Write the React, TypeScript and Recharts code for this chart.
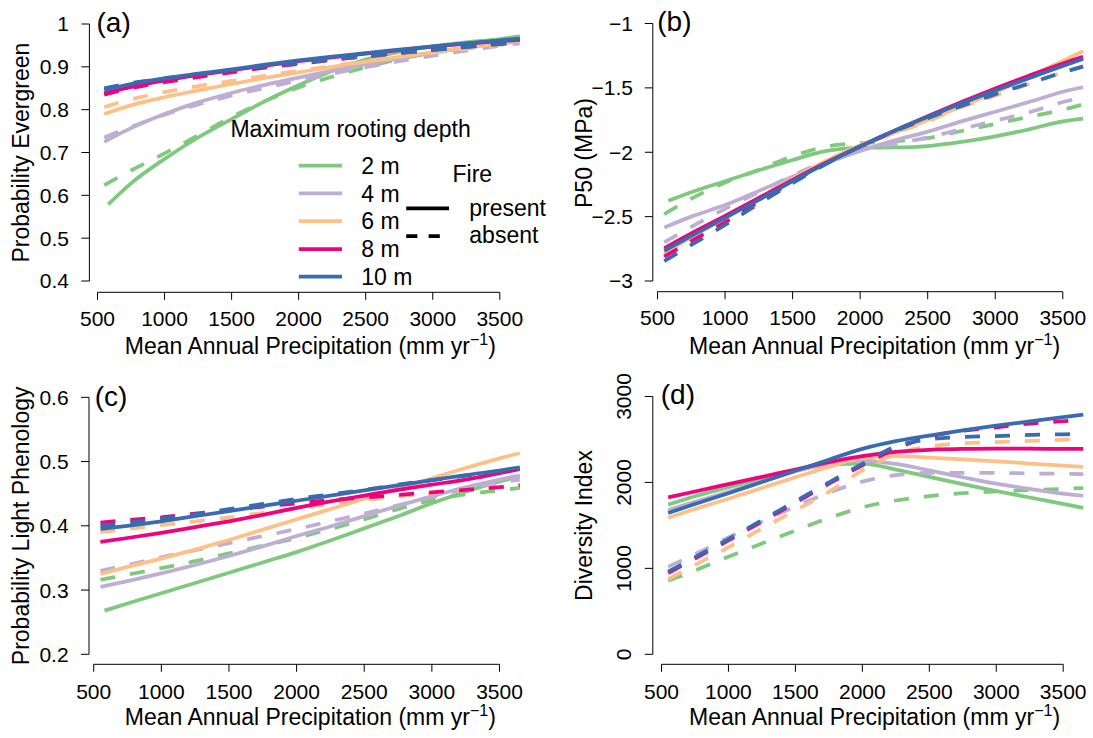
import React from 'react';
import { LineChart, Line, XAxis, YAxis, ReferenceLine } from 'recharts';

const FONT = '"Liberation Sans", Arial, Helvetica, sans-serif';
const TICK_FS = 21;
const TITLE_FS = 23;
const LETTER_FS = 28;
const LW = 3.75;
const DASH = '15 15';

const DEPTH_LABELS = ['2 m', '4 m', '6 m', '8 m', '10 m'];
const DEPTH_COLORS = ['#7FC97F', '#BEAED4', '#FDC086', '#F0027F', '#386CB0'];
const FIRE_LABELS = ['present', 'absent'];
const LEGEND_TITLE = 'Maximum rooting depth';
const FIRE_TITLE = 'Fire';

const PRECIP = [550, 750, 1000, 1250, 1500, 1750, 2000, 2250, 2500, 2750, 3000, 3250, 3500, 3650];
const PRECIP_G = [580, 750, 1000, 1250, 1500, 1750, 2000, 2250, 2500, 2750, 3000, 3250, 3500, 3650];
const X_TICKS = [500, 1000, 1500, 2000, 2500, 3000, 3500];

// (a) Probability Evergreen
const A_2M_PRESENT = [0.579, 0.628, 0.685, 0.735, 0.778, 0.82, 0.857, 0.89, 0.917, 0.935, 0.948, 0.957, 0.965, 0.971];
const A_2M_ABSENT = [0.624, 0.658, 0.698, 0.74, 0.783, 0.82, 0.852, 0.877, 0.899, 0.918, 0.933, 0.945, 0.954, 0.96];
const A_4M_PRESENT = [0.725, 0.757, 0.79, 0.817, 0.839, 0.858, 0.875, 0.891, 0.906, 0.92, 0.933, 0.945, 0.956, 0.962];
const A_4M_ABSENT = [0.735, 0.76, 0.788, 0.812, 0.833, 0.851, 0.868, 0.884, 0.899, 0.913, 0.926, 0.938, 0.949, 0.955];
const A_6M_PRESENT = [0.79, 0.81, 0.829, 0.845, 0.86, 0.874, 0.887, 0.9, 0.912, 0.923, 0.934, 0.945, 0.955, 0.962];
const A_6M_ABSENT = [0.806, 0.824, 0.841, 0.855, 0.867, 0.879, 0.891, 0.902, 0.913, 0.923, 0.933, 0.942, 0.951, 0.956];
const A_8M_PRESENT = [0.838, 0.853, 0.868, 0.881, 0.892, 0.903, 0.913, 0.922, 0.931, 0.939, 0.947, 0.954, 0.96, 0.963];
const A_8M_ABSENT = [0.835, 0.85, 0.864, 0.876, 0.887, 0.898, 0.907, 0.916, 0.924, 0.932, 0.94, 0.947, 0.954, 0.958];
const A_10M_PRESENT = [0.846, 0.86, 0.873, 0.884, 0.894, 0.905, 0.915, 0.924, 0.932, 0.94, 0.948, 0.955, 0.962, 0.966];
const A_10M_ABSENT = [0.85, 0.862, 0.873, 0.883, 0.892, 0.901, 0.909, 0.917, 0.925, 0.932, 0.939, 0.946, 0.953, 0.957];
const A_Y_TICKS = [0.4, 0.5, 0.6, 0.7, 0.8, 0.9, 1];

// (b) P50 (MPa)
const B_2M_PRESENT = [-2.376, -2.31, -2.225, -2.14, -2.06, -1.99, -1.965, -1.963, -1.952, -1.92, -1.876, -1.822, -1.76, -1.738];
const B_2M_ABSENT = [-2.48, -2.36, -2.236, -2.135, -2.03, -1.955, -1.93, -1.915, -1.89, -1.835, -1.78, -1.725, -1.67, -1.628];
const B_4M_PRESENT = [-2.585, -2.5, -2.41, -2.3, -2.19, -2.085, -1.99, -1.91, -1.84, -1.76, -1.685, -1.61, -1.53, -1.495];
const B_4M_ABSENT = [-2.7, -2.58, -2.44, -2.31, -2.18, -2.07, -1.985, -1.935, -1.885, -1.82, -1.755, -1.69, -1.61, -1.573];
const B_6M_PRESENT = [-2.785, -2.66, -2.51, -2.355, -2.205, -2.065, -1.945, -1.85, -1.75, -1.645, -1.535, -1.415, -1.29, -1.215];
const B_6M_ABSENT = [-2.8, -2.68, -2.53, -2.375, -2.215, -2.07, -1.95, -1.855, -1.76, -1.65, -1.56, -1.47, -1.38, -1.33];
const B_8M_PRESENT = [-2.745, -2.63, -2.495, -2.355, -2.215, -2.08, -1.955, -1.835, -1.72, -1.61, -1.505, -1.405, -1.31, -1.258];
const B_8M_ABSENT = [-2.81, -2.69, -2.545, -2.385, -2.23, -2.085, -1.955, -1.835, -1.725, -1.62, -1.515, -1.415, -1.32, -1.27];
const B_10M_PRESENT = [-2.765, -2.65, -2.51, -2.37, -2.225, -2.085, -1.955, -1.835, -1.725, -1.62, -1.52, -1.425, -1.33, -1.275];
const B_10M_ABSENT = [-2.845, -2.72, -2.565, -2.4, -2.24, -2.09, -1.955, -1.84, -1.735, -1.64, -1.55, -1.465, -1.38, -1.335];
const B_Y_TICKS = [-3, -2.5, -2, -1.5, -1];

// (c) Probability Light Phenology
const C_2M_PRESENT = [0.268, 0.279, 0.295, 0.311, 0.327, 0.343, 0.359, 0.377, 0.396, 0.415, 0.435, 0.453, 0.469, 0.477];
const C_2M_ABSENT = [0.316, 0.324, 0.334, 0.345, 0.357, 0.369, 0.381, 0.395, 0.41, 0.426, 0.44, 0.449, 0.455, 0.459];
const C_4M_PRESENT = [0.305, 0.314, 0.326, 0.339, 0.353, 0.368, 0.384, 0.399, 0.415, 0.431, 0.446, 0.46, 0.472, 0.478];
const C_4M_ABSENT = [0.33, 0.339, 0.351, 0.362, 0.373, 0.384, 0.395, 0.407, 0.419, 0.432, 0.445, 0.457, 0.467, 0.472];
const C_6M_PRESENT = [0.325, 0.336, 0.349, 0.363, 0.378, 0.394, 0.41, 0.426, 0.442, 0.458, 0.474, 0.49, 0.505, 0.513];
const C_6M_ABSENT = [0.39, 0.395, 0.401, 0.407, 0.413, 0.42, 0.427, 0.434, 0.44, 0.446, 0.451, 0.456, 0.461, 0.464];
const C_8M_PRESENT = [0.375, 0.381, 0.389, 0.398, 0.407, 0.417, 0.428, 0.438, 0.447, 0.456, 0.464, 0.472, 0.482, 0.488];
const C_8M_ABSENT = [0.405, 0.409, 0.413, 0.419, 0.424, 0.43, 0.435, 0.44, 0.444, 0.448, 0.452, 0.456, 0.46, 0.463];
const C_10M_PRESENT = [0.395, 0.4, 0.407, 0.415, 0.423, 0.431, 0.439, 0.447, 0.455, 0.463, 0.471, 0.479, 0.486, 0.491];
const C_10M_ABSENT = [0.4, 0.405, 0.411, 0.418, 0.426, 0.434, 0.442, 0.449, 0.456, 0.464, 0.471, 0.478, 0.485, 0.489];
const C_Y_TICKS = [0.2, 0.3, 0.4, 0.5, 0.6];

// (d) Diversity Index
const D_2M_PRESENT = [1742, 1840, 1945, 2045, 2140, 2205, 2220, 2150, 2065, 1980, 1900, 1825, 1750, 1705];
const D_2M_ABSENT = [857, 975, 1135, 1290, 1440, 1585, 1710, 1790, 1840, 1875, 1895, 1910, 1925, 1935];
const D_4M_PRESENT = [1680, 1775, 1890, 2010, 2130, 2220, 2255, 2215, 2140, 2060, 1985, 1925, 1870, 1845];
const D_4M_ABSENT = [1020, 1165, 1360, 1545, 1720, 1880, 2010, 2085, 2110, 2112, 2110, 2105, 2100, 2098];
const D_6M_PRESENT = [1590, 1690, 1810, 1935, 2060, 2180, 2285, 2305, 2290, 2268, 2245, 2220, 2195, 2180];
const D_6M_ABSENT = [875, 1040, 1245, 1465, 1675, 1890, 2140, 2330, 2420, 2455, 2468, 2483, 2497, 2505];
const D_8M_PRESENT = [1826, 1895, 1980, 2065, 2150, 2235, 2305, 2355, 2380, 2390, 2392, 2392, 2390, 2390];
const D_8M_ABSENT = [945, 1115, 1325, 1545, 1765, 1985, 2200, 2390, 2530, 2600, 2640, 2685, 2712, 2725];
const D_10M_PRESENT = [1645, 1748, 1875, 2005, 2135, 2265, 2390, 2480, 2545, 2605, 2660, 2710, 2760, 2788];
const D_10M_ABSENT = [961, 1130, 1340, 1560, 1780, 2000, 2215, 2420, 2500, 2530, 2540, 2552, 2560, 2562];
const D_Y_TICKS = [0, 1000, 2000, 3000];

const MINUS = '\u2212';
const fmtA = (v: number) => (v === 1 ? '1' : v.toFixed(1));
const fmtB = (v: number) => (v < 0 ? MINUS : '') + String(Math.abs(v));
const fmtC = (v: number) => v.toFixed(1);
const fmtD = (v: number) => String(v);

const pts = (xs: number[], ys: number[]) => xs.map((x, i) => ({ x, y: ys[i] }));
const lerp = (p0: number, v0: number, p1: number, v1: number, p: number) => v0 + ((p - p0) * (v1 - v0)) / (p1 - p0);

type Series = { xsP: number[]; present: number[]; absent: number[] };

const PANELS = [
  {
    id: 'a', left: 0, top: 0, w: 546, h: 369,
    plotLeft: 89.4, plotRight: 531.4, plotTop: 12, plotBottom: 292.3,
    x500: 97.5, x3500: 499.8, yLoPx: 281, yHiPx: 24,
    yTicks: A_Y_TICKS, fmt: fmtA, rotate: false, xTickMargin: 11, yTickMargin: 12.4,
    series: [
      { xsP: PRECIP_G, present: A_2M_PRESENT, absent: A_2M_ABSENT },
      { xsP: PRECIP, present: A_4M_PRESENT, absent: A_4M_ABSENT },
      { xsP: PRECIP, present: A_6M_PRESENT, absent: A_6M_ABSENT },
      { xsP: PRECIP, present: A_8M_PRESENT, absent: A_8M_ABSENT },
      { xsP: PRECIP, present: A_10M_PRESENT, absent: A_10M_ABSENT },
    ] as Series[],
  },
  {
    id: 'b', left: 546, top: 0, w: 547, h: 369,
    plotLeft: 106.8, plotRight: 545, plotTop: 12, plotBottom: 291.7,
    x500: 111.5, x3500: 516.8, yLoPx: 281, yHiPx: 23.5,
    yTicks: B_Y_TICKS, fmt: fmtB, rotate: false, xTickMargin: 11, yTickMargin: 11.8,
    series: [
      { xsP: PRECIP_G, present: B_2M_PRESENT, absent: B_2M_ABSENT },
      { xsP: PRECIP, present: B_4M_PRESENT, absent: B_4M_ABSENT },
      { xsP: PRECIP, present: B_6M_PRESENT, absent: B_6M_ABSENT },
      { xsP: PRECIP, present: B_8M_PRESENT, absent: B_8M_ABSENT },
      { xsP: PRECIP, present: B_10M_PRESENT, absent: B_10M_ABSENT },
    ] as Series[],
  },
  {
    id: 'c', left: 0, top: 369, w: 546, h: 369,
    plotLeft: 89, plotRight: 531.4, plotTop: 15, plotBottom: 295.3,
    x500: 93.7, x3500: 499.5, yLoPx: 285.3, yHiPx: 28.3,
    yTicks: C_Y_TICKS, fmt: fmtC, rotate: false, xTickMargin: 12, yTickMargin: 12.4,
    series: [
      { xsP: PRECIP_G, present: C_2M_PRESENT, absent: C_2M_ABSENT },
      { xsP: PRECIP, present: C_4M_PRESENT, absent: C_4M_ABSENT },
      { xsP: PRECIP, present: C_6M_PRESENT, absent: C_6M_ABSENT },
      { xsP: PRECIP, present: C_8M_PRESENT, absent: C_8M_ABSENT },
      { xsP: PRECIP, present: C_10M_PRESENT, absent: C_10M_ABSENT },
    ] as Series[],
  },
  {
    id: 'd', left: 546, top: 369, w: 547, h: 369,
    plotLeft: 106.8, plotRight: 545, plotTop: 15, plotBottom: 295.3,
    x500: 115.5, x3500: 517.2, yLoPx: 285.3, yHiPx: 27.5,
    yTicks: D_Y_TICKS, fmt: fmtD, rotate: true, xTickMargin: 12, yTickMargin: 14.1,
    series: [
      { xsP: PRECIP, present: D_2M_PRESENT, absent: D_2M_ABSENT },
      { xsP: PRECIP, present: D_4M_PRESENT, absent: D_4M_ABSENT },
      { xsP: PRECIP, present: D_6M_PRESENT, absent: D_6M_ABSENT },
      { xsP: PRECIP, present: D_8M_PRESENT, absent: D_8M_ABSENT },
      { xsP: PRECIP, present: D_10M_PRESENT, absent: D_10M_ABSENT },
    ] as Series[],
  },
];

const RotTick = (props: any) => {
  const { x, y, payload } = props;
  return (
    <text x={x} y={y} transform={`rotate(-90 ${x} ${y})`} textAnchor="middle" fontSize={TICK_FS} fontFamily={FONT} fill="#000">
      {String(payload.value)}
    </text>
  );
};

function Panel({ s }: { s: (typeof PANELS)[number] }) {
  const n = s.yTicks.length;
  const xDomain = [
    lerp(s.x500, 500, s.x3500, 3500, s.plotLeft),
    lerp(s.x500, 500, s.x3500, 3500, s.plotRight),
  ];
  const yDomain = [
    lerp(s.yLoPx, s.yTicks[0], s.yHiPx, s.yTicks[n - 1], s.plotBottom),
    lerp(s.yLoPx, s.yTicks[0], s.yHiPx, s.yTicks[n - 1], s.plotTop),
  ];
  const lines: React.ReactNode[] = [];
  s.series.forEach((ser, i) => {
    lines.push(
      <Line key={`p${i}`} data={pts(ser.xsP, ser.present)} dataKey="y" type="monotone" stroke={DEPTH_COLORS[i]}
        strokeWidth={LW} dot={false} activeDot={false} isAnimationActive={false} strokeLinecap="butt" />
    );
    lines.push(
      <Line key={`a${i}`} data={pts(PRECIP, ser.absent)} dataKey="y" type="monotone" stroke={DEPTH_COLORS[i]}
        strokeWidth={LW} strokeDasharray={DASH} dot={false} activeDot={false} isAnimationActive={false} strokeLinecap="butt" />
    );
  });
  return (
    <div style={{ position: 'absolute', left: s.left, top: s.top, width: s.w, height: s.h }}>
      <LineChart width={s.w} height={s.h} margin={{ top: s.plotTop, right: s.w - s.plotRight, bottom: 0, left: 0 }}>
        <XAxis type="number" dataKey="x" domain={xDomain} allowDataOverflow ticks={X_TICKS} interval={0}
          axisLine={false} tickLine={{ stroke: '#000', strokeWidth: 1 }} tickSize={7.5} tickMargin={s.xTickMargin}
          height={s.h - s.plotBottom} tick={{ fill: '#000', fontSize: TICK_FS, fontFamily: FONT }} />
        <YAxis type="number" domain={yDomain} allowDataOverflow ticks={s.yTicks} interval={0}
          axisLine={false} tickLine={{ stroke: '#000', strokeWidth: 1 }} tickSize={8} tickMargin={s.yTickMargin}
          width={s.plotLeft} tickFormatter={s.fmt}
          tick={s.rotate ? <RotTick /> : { fill: '#000', fontSize: TICK_FS, fontFamily: FONT }} />
        <ReferenceLine segment={[{ x: 500, y: yDomain[0] }, { x: 3500, y: yDomain[0] }]} stroke="#000" strokeWidth={1} ifOverflow="visible" />
        <ReferenceLine segment={[{ x: xDomain[0], y: s.yTicks[0] }, { x: xDomain[0], y: s.yTicks[n - 1] }]} stroke="#000" strokeWidth={1} ifOverflow="visible" />
        {lines}
      </LineChart>
    </div>
  );
}

const X_TITLE_POS = [
  [310.4, 348.3],
  [874.6, 348.3],
  [310.4, 719],
  [874.6, 719],
];
const Y_TITLES = ['Probability Evergreen', 'P50 (MPa)', 'Probability Light Phenology', 'Diversity Index'];
const Y_TITLE_POS = [
  [22.8, 152.6],
  [586.4, 153],
  [22.8, 525.8],
  [586.4, 525.5],
];
const LETTERS = ['(a)', '(b)', '(c)', '(d)'];
const LETTER_POS = [
  [96.5, 25],
  [657.3, 23.3],
  [94.7, 399.2],
  [660.8, 396.7],
];

function Overlay() {
  const up = 0.26 * TITLE_FS;
  const legendYs = [165.7, 193.3, 221, 249, 276.7];
  return (
    <svg width={1093} height={738} style={{ position: 'absolute', left: 0, top: 0, pointerEvents: 'none' }}>
      <g fontFamily={FONT} fill="#000">
        {X_TITLE_POS.map(([x, y], i) => (
          <text key={`xt${i}`} x={x} y={y + up} textAnchor="middle" fontSize={TITLE_FS}>
            Mean Annual Precipitation (mm yr
            <tspan dy={-9} fontSize={TITLE_FS * 0.7}>{MINUS + '1'}</tspan>
            <tspan dy={9}>)</tspan>
          </text>
        ))}
        {Y_TITLE_POS.map(([x, y], i) => (
          <text key={`yt${i}`} x={x + up} y={y} textAnchor="middle" fontSize={TITLE_FS} transform={`rotate(-90 ${x + up} ${y})`}>
            {Y_TITLES[i]}
          </text>
        ))}
        {LETTER_POS.map(([x, y], i) => (
          <text key={`l${i}`} x={x} y={y + 0.26 * LETTER_FS} fontSize={LETTER_FS}>{LETTERS[i]}</text>
        ))}
        <text x={230.4} y={130.7 + up} fontSize={TITLE_FS}>{LEGEND_TITLE}</text>
        {DEPTH_LABELS.map((lab, i) => (
          <g key={`lg${i}`}>
            <line x1={298.8} x2={342} y1={legendYs[i]} y2={legendYs[i]} stroke={DEPTH_COLORS[i]} strokeWidth={LW} />
            <text x={361.3} y={legendYs[i] + 0.358 * TITLE_FS} fontSize={TITLE_FS}>{lab}</text>
          </g>
        ))}
        <text x={452.5} y={173.3 + 0.358 * TITLE_FS} fontSize={TITLE_FS}>{FIRE_TITLE}</text>
        <line x1={406.2} x2={449} y1={208.3} y2={208.3} stroke="#000" strokeWidth={LW} />
        <line x1={406.2} x2={449} y1={236} y2={236} stroke="#000" strokeWidth={LW} strokeDasharray="11.2 11.2" />
        <text x={469.3} y={210 + up} fontSize={TITLE_FS}>{FIRE_LABELS[0]}</text>
        <text x={469.3} y={236.7 + up} fontSize={TITLE_FS}>{FIRE_LABELS[1]}</text>
      </g>
    </svg>
  );
}

export default function App() {
  return (
    <div style={{ position: 'relative', width: 1093, height: 738, background: '#fff', overflow: 'hidden' }}>
      <style>{'body{margin:0}'}</style>
      {PANELS.map((s) => (
        <Panel key={s.id} s={s} />
      ))}
      <Overlay />
    </div>
  );
}
